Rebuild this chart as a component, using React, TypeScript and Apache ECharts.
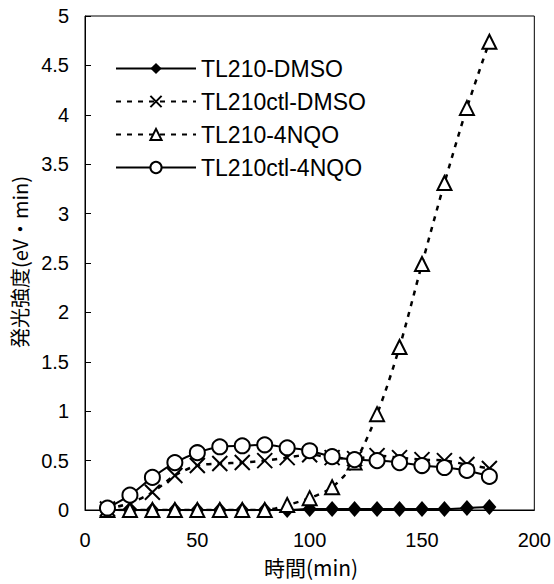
import React, { useEffect, useRef } from "react";
import * as echarts from "echarts";

const xValues = [10, 20, 30, 40, 50, 60, 70, 80, 90, 100, 110, 120, 130, 140, 150, 160, 170, 180];
const tl210Dmso = [0, 0, 0, 0, 0, 0, 0, 0, 0, 0.01, 0.01, 0.01, 0.01, 0.01, 0.01, 0.01, 0.02, 0.03];
const tl210ctlDmso = [0.01, 0.07, 0.18, 0.35, 0.45, 0.47, 0.48, 0.5, 0.53, 0.56, 0.53, 0.52, 0.55, 0.53, 0.51, 0.5, 0.46, 0.42];
const tl210Nqo = [0, 0, 0, 0, 0, 0, 0, 0, 0.05, 0.12, 0.23, 0.48, 0.97, 1.65, 2.49, 3.31, 4.07, 4.74];
const tl210ctlNqo = [0.02, 0.15, 0.33, 0.48, 0.58, 0.64, 0.65, 0.66, 0.63, 0.6, 0.54, 0.51, 0.5, 0.48, 0.45, 0.43, 0.4, 0.34];

const seriesNames = ["TL210-DMSO", "TL210ctl-DMSO", "TL210-4NQO", "TL210ctl-4NQO"];
const xTitle = "時間(min)";
const yTitle = "発光強度(eV・min)";

const pair = (ys: number[]) => xValues.map((x, i) => [x, ys[i]]);
const FONT = "'Liberation Sans', 'Noto Sans CJK JP', sans-serif";
const JFONT = "'Noto Sans CJK JP', sans-serif";

export default function App() {
  const ref = useRef<HTMLDivElement>(null);
  useEffect(() => {
    document.body.style.margin = "0";
    const chart = echarts.init(ref.current!, null, { renderer: "svg" });
    const crossPath = "path://M0,0L10,10M10,0L0,10";
    chart.setOption({
      animation: false,
      backgroundColor: "#fff",
      grid: { left: 85, top: 16, right: 19, bottom: 74, show: true, borderColor: "#000", borderWidth: 1 },
      xAxis: {
        type: "value", min: 0, max: 200, interval: 50,
        axisLine: { show: true, onZero: false, lineStyle: { color: "#000", width: 1 } },
        axisTick: { show: false },
        splitLine: { show: false },
        axisLabel: { color: "#000", fontSize: 20, fontFamily: FONT, margin: 20 },
      },
      yAxis: {
        type: "value", min: 0, max: 5, interval: 0.5,
        axisLine: { show: true, lineStyle: { color: "#000", width: 1 } },
        axisTick: { show: true, inside: true, length: 6, lineStyle: { color: "#000" } },
        splitLine: { show: false },
        axisLabel: { color: "#000", fontSize: 20, fontFamily: FONT, margin: 16 },
      },
      legend: {
        orient: "vertical", left: 115, top: 57, padding: 0, itemWidth: 80, itemHeight: 14, itemGap: 10,
        data: seriesNames,
        textStyle: { color: "#000", fontSize: 23, fontFamily: FONT },
      },
      graphic: [
        {
          type: "text", x: 19, y: 262, rotation: Math.PI / 2,
          style: { text: yTitle, fontSize: 20, fontFamily: JFONT, fill: "#000", align: "center", verticalAlign: "middle" },
        },
        {
          type: "text", x: 311, y: 567,
          style: { text: xTitle, fontSize: 21, fontFamily: JFONT, fill: "#000", align: "center", verticalAlign: "middle" },
        },
      ],
      series: [
        {
          name: seriesNames[0], type: "line", data: pair(tl210Dmso), smooth: 0.3,
          symbol: "diamond", symbolSize: [14, 16],
          lineStyle: { color: "#000", width: 2 },
          itemStyle: { color: "#000", borderColor: "#000", borderWidth: 0 },
          z: 2,
        },
        {
          name: seriesNames[1], type: "line", data: pair(tl210ctlDmso), smooth: 0.3,
          symbol: crossPath, symbolSize: 15,
          lineStyle: { color: "#000", width: 2.5, type: [5, 6] },
          itemStyle: { color: "#000", borderColor: "#000", borderWidth: 2 },
          z: 3,
        },
        {
          name: seriesNames[2], type: "line", data: pair(tl210Nqo), smooth: 0.3,
          symbol: "triangle", symbolSize: 14,
          lineStyle: { color: "#000", width: 2.5, type: [5, 6] },
          itemStyle: { color: "#fff", borderColor: "#000", borderWidth: 2 },
          z: 4,
        },
        {
          name: seriesNames[3], type: "line", data: pair(tl210ctlNqo), smooth: 0.3,
          symbol: "circle", symbolSize: 15,
          lineStyle: { color: "#000", width: 2 },
          itemStyle: { color: "#fff", borderColor: "#000", borderWidth: 2 },
          z: 5,
        },
      ],
    });
    return () => chart.dispose();
  }, []);
  return <div ref={ref} style={{ position: "absolute", left: 0, top: 0, width: 554, height: 584 }} />;
}
